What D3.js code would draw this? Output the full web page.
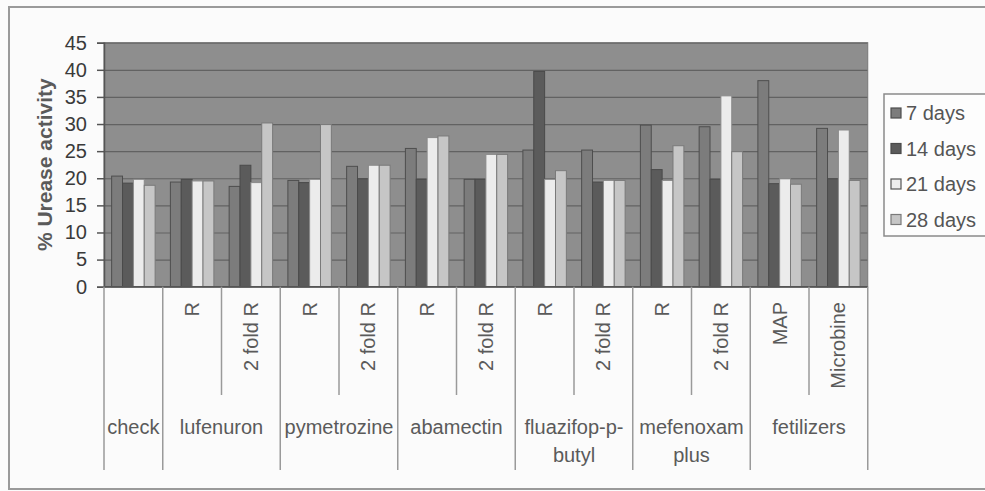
<!DOCTYPE html>
<html><head><meta charset="utf-8">
<script src="https://cdn.jsdelivr.net/npm/d3@7"></script>
<style>
html,body{margin:0;padding:0;background:#fbfbfb;}
svg{display:block;font-family:"Liberation Sans",Arial,sans-serif;}
</style></head>
<body><svg id="c" width="985" height="491"></svg>
<script>
const categories = ["check","R","2 fold R","R","2 fold R","R","2 fold R","R","2 fold R","R","2 fold R","MAP","Microbine"];
const groupNames = [["check"],["lufenuron"],["pymetrozine"],["abamectin"],["fluazifop-p-","butyl"],["mefenoxam","plus"],["fetilizers"]];
const groupSizes = [1,2,2,2,2,2,2];
const seriesNames = ["7 days","14 days","21 days","28 days"];
const days7  = [20.4,19.3,18.5,19.6,22.2,25.5,19.8,25.2,25.2,29.8,29.5,38.0,29.2];
const days14 = [19.1,19.8,22.4,19.2,19.9,19.8,19.8,39.7,19.3,21.6,19.8,19.0,19.9];
const days21 = [19.8,19.5,19.2,19.8,22.4,27.5,24.4,19.8,19.6,19.6,35.2,19.9,28.9];
const days28 = [18.7,19.5,30.2,29.9,22.4,27.8,24.4,21.4,19.6,26.0,24.9,18.9,19.6];
const yTicks = [0,5,10,15,20,25,30,35,40,45];
const yTitle = "% Urease activity";

const series = [days7, days14, days21, days28];
const fills = ["#7c7c7c","#5b5b5b","#ececec","#c6c6c6"];
const strokes = ["#4e4e4e","#4a4a4a","#8a8a8a","#7a7a7a"];

const svg = d3.select("#c");
const L = 104, R = 867.75, T = 42.7, B = 286.7;

// outer frame
svg.append("path").attr("d", `M985,7 H9 V489 H985`).attr("fill","none").attr("stroke","#9a9a9a").attr("stroke-width",2);

const idx = categories.map((d,i)=>i);
const x0 = d3.scaleBand().domain(idx).range([L,R]).padding(0);
const step = x0.step();
const x1 = d3.scaleBand().domain(d3.range(4)).range([step*0.13, step*0.87]).padding(0);
const y = d3.scaleLinear().domain([0,45]).range([B,T]);

// plot background
svg.append("rect").attr("x",L).attr("y",T).attr("width",R-L).attr("height",B-T).attr("fill","#8e8e8e");

// gridlines
svg.append("g").attr("transform",`translate(${L},0)`)
  .call(d3.axisLeft(y).tickValues(yTicks).tickSize(-(R-L)).tickFormat(""))
  .call(g=>{g.select(".domain").remove(); g.selectAll("line").attr("stroke","#626262").attr("stroke-width",1.2);});

// bars
const gBars = svg.append("g");
idx.forEach(i=>{
  const g = gBars.append("g").attr("transform",`translate(${x0(i)},0)`);
  series.forEach((s,k)=>{
    g.append("rect").attr("x",x1(k)).attr("y",y(s[i])).attr("width",x1.bandwidth()).attr("height",y(0)-y(s[i]))
     .attr("fill",fills[k]).attr("stroke",strokes[k]).attr("stroke-width",1);
  });
});

// plot border right/top
svg.append("rect").attr("x",L).attr("y",T).attr("width",R-L).attr("height",B-T).attr("fill","none").attr("stroke","#777").attr("stroke-width",1);

// y axis
const ya = svg.append("g").attr("transform",`translate(${L},0)`)
  .call(d3.axisLeft(y).tickValues(yTicks).tickSize(7).tickPadding(10));
ya.select(".domain").attr("stroke","#555").attr("stroke-width",1.5);
ya.selectAll("line").attr("stroke","#555").attr("stroke-width",1.5);
ya.selectAll("text").attr("font-size",20).attr("fill","#3a3a3a").attr("font-family","Liberation Sans, Arial, sans-serif");

// y title
svg.append("text").attr("transform",`translate(52,${(T+B)/2}) rotate(-90)`).attr("text-anchor","middle")
  .attr("font-size",21).attr("font-weight","bold").attr("fill","#5a5a5a").text(yTitle);

// x axis line
svg.append("line").attr("x1",L).attr("x2",R).attr("y1",B).attr("y2",B).attr("stroke","#555").attr("stroke-width",1.5);

// category dividers
const gx = svg.append("g");
let start = 0;
const groupStarts = [];
groupSizes.forEach(n=>{ groupStarts.push(start); start += n; });
for (let i=0;i<=categories.length;i++){
  const xx = i<categories.length ? x0(i) : R;
  const isGroup = i===categories.length || groupStarts.includes(i);
  gx.append("line").attr("x1",xx).attr("x2",xx).attr("y1",B).attr("y2",isGroup?470:395)
    .attr("stroke","#9a9a9a").attr("stroke-width",1.5);
}
// sub labels
idx.forEach(i=>{
  const gi = groupStarts.indexOf(i);
  if (gi>=0 && groupSizes[gi]===1) return;
  gx.append("text").attr("transform",`translate(${x0(i)+step/2+7},302) rotate(-90)`)
    .attr("text-anchor","end").attr("font-size",20).attr("fill","#5a5a5a").text(categories[i]);
});
// group labels
groupNames.forEach((lines,g)=>{
  const a = x0(groupStarts[g]);
  const b = a + step*groupSizes[g];
  const t = gx.append("text").attr("x",(a+b)/2).attr("y",434).attr("text-anchor","middle")
    .attr("font-size",20).attr("fill","#5a5a5a");
  lines.forEach((ln,j)=>t.append("tspan").attr("x",(a+b)/2).attr("dy",j?28:0).text(ln));
});

// legend
const lg = svg.append("g");
lg.append("rect").attr("x",884).attr("y",94).attr("width",110).attr("height",142).attr("fill","#fdfdfd").attr("stroke","#8a8a8a").attr("stroke-width",1.5);
seriesNames.forEach((n,k)=>{
  const cy = 113 + k*35.5;
  lg.append("rect").attr("x",891).attr("y",cy-5).attr("width",10).attr("height",10)
    .attr("fill",fills[k]).attr("stroke",k===2?"#555":strokes[k]).attr("stroke-width",1.2);
  lg.append("text").attr("x",906).attr("y",cy+7).attr("font-size",20).attr("fill","#555").text(n);
});
</script></body></html>
